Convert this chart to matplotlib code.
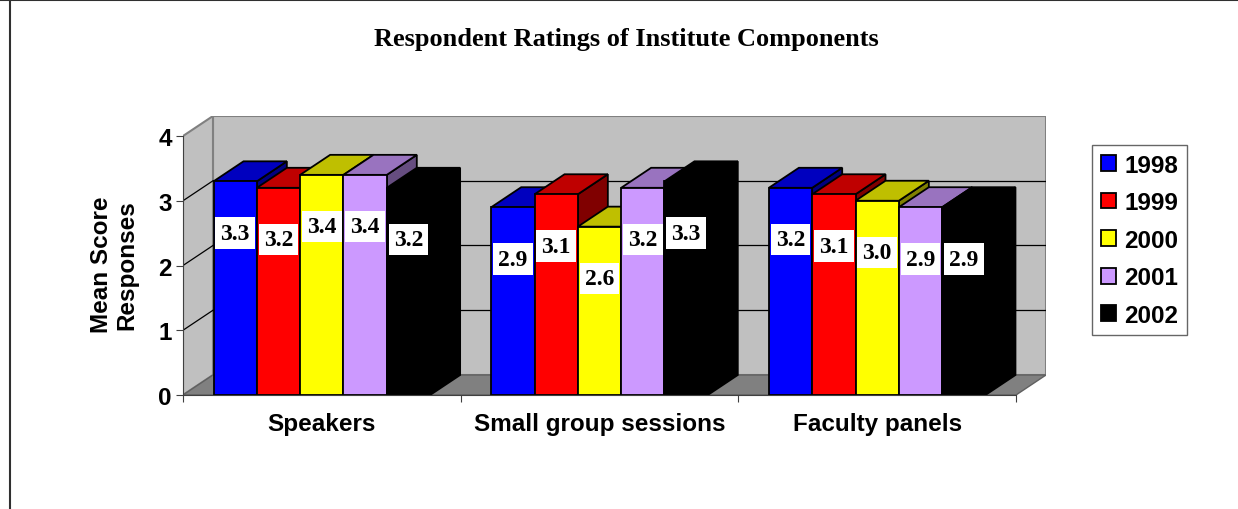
import matplotlib
matplotlib.use("Agg")
import matplotlib.pyplot as plt
from matplotlib.patches import Polygon, Rectangle, Patch
from matplotlib.lines import Line2D

categories = ["Speakers", "Small group sessions", "Faculty panels"]
years = ["1998", "1999", "2000", "2001", "2002"]
colors = ["#0000FF", "#FF0000", "#FFFF00", "#CC99FF", "#000000"]
v1998 = [3.3, 2.9, 3.2]
v1999 = [3.2, 3.1, 3.1]
v2000 = [3.4, 2.6, 3.0]
v2001 = [3.4, 3.2, 2.9]
v2002 = [3.2, 3.3, 2.9]
series = [v1998, v1999, v2000, v2001, v2002]
yticks = [0, 1, 2, 3, 4]

W, H = 1238, 510
# pseudo-3d depth (data units)
DX, DY = 0.108, 0.309
BAR_W = 0.156
GAP = (1 - BAR_W * len(years)) / 2
LABEL_DROP = 0.8
SANS = "Liberation Sans"
SERIF = "Liberation Serif"
FS = 17.5


def shade(c, f):
    r, g, b = matplotlib.colors.to_rgb(c)
    return (r * f, g * f, b * f)


fig = plt.figure(figsize=(W / 100, H / 100), dpi=100)
ax = fig.add_axes([183 / W, (H - 396) / H, (1046 - 183) / W, (396 - 117) / H])
ax.set_xlim(0, 3 + DX)
ax.set_ylim(0, 4 + DY)
ax.patch.set_visible(False)

wall = "#C0C0C0"
edge = "#808080"
top = max(yticks)
# back wall
ax.add_patch(Rectangle((DX, DY), 3, top, fc=wall, ec=edge, lw=1.5, zorder=1))
# left wall
ax.add_patch(Polygon([(0, 0), (0, top), (DX, top + DY), (DX, DY)], closed=True,
                     fc=wall, ec=edge, lw=1.5, zorder=1))
# floor
ax.add_patch(Polygon([(0, 0), (3, 0), (3 + DX, DY), (DX, DY)], closed=True,
                     fc="#808080", ec="#606060", lw=1.0, zorder=1))
for t in yticks[1:-1]:
    ax.plot([DX, 3 + DX], [t + DY, t + DY], color="black", lw=0.9, zorder=2)
    ax.plot([0, DX], [t, t + DY], color="black", lw=0.9, zorder=2)

z = 3
for i in range(len(categories)):
    for j, vals in enumerate(series):
        v = vals[i]
        c = colors[j]
        x0 = i + GAP + j * BAR_W
        x1 = x0 + BAR_W
        side = [(x1, 0), (x1 + DX, DY), (x1 + DX, v + DY), (x1, v)]
        topf = [(x0, v), (x1, v), (x1 + DX, v + DY), (x0 + DX, v + DY)]
        ax.add_patch(Polygon(side, closed=True, fc=shade(c, 0.5), ec="black", lw=1.3, zorder=z))
        ax.add_patch(Polygon(topf, closed=True, fc=shade(c, 0.75), ec="black", lw=1.3, zorder=z))
        ax.add_patch(Rectangle((x0, 0), BAR_W, v, fc=c, ec="black", lw=1.3, zorder=z))
        z += 1

for i in range(len(categories)):
    for j, vals in enumerate(series):
        v = vals[i]
        xc = i + GAP + (j + 0.5) * BAR_W
        ax.text(xc, v - LABEL_DROP, f"{v:.1f}", ha="center", va="center",
                family=SERIF, weight="bold", fontsize=17, zorder=50,
                bbox=dict(boxstyle="square,pad=0.22", fc="white", ec="none"))

for s in ["top", "right"]:
    ax.spines[s].set_visible(False)
ax.spines["left"].set_bounds(0, top)
ax.spines["bottom"].set_bounds(0, 3)
ax.spines["left"].set_color("#404040")
ax.spines["bottom"].set_color("#404040")
ax.spines["left"].set_zorder(60)
ax.spines["bottom"].set_zorder(60)
ax.set_yticks(yticks)
ax.set_yticklabels([str(t) for t in yticks], family=SANS, weight="bold", fontsize=FS)
ax.set_xticks([0, 1, 2, 3])
ax.set_xticklabels([])
ax.set_xticks([0.5, 1.5, 2.5], minor=True)
ax.set_xticklabels(categories, minor=True, family=SANS, weight="bold", fontsize=FS)
ax.tick_params(axis="y", length=5, pad=3, color="#404040")
ax.tick_params(axis="x", which="major", length=5, color="#404040")
ax.tick_params(axis="x", which="minor", length=0, pad=12)

fig.text(114 / W, 1 - 265 / H, "Mean Score\nResponses", rotation=90,
         ha="center", va="center", family=SANS, weight="bold",
         fontsize=FS, linespacing=1.15)

fig.text(626 / W, 1 - 40 / H, "Respondent Ratings of Institute Components",
         ha="center", va="center", family=SERIF, weight="bold", fontsize=19)

handles = [Patch(fc=c, ec="black", lw=1.3) for c in colors]
leg = fig.legend(handles, years, loc="upper left",
                 bbox_to_anchor=(1092 / W, 1 - 146 / H), frameon=True,
                 fancybox=False, prop=dict(family=SANS, weight="bold", size=FS),
                 handlelength=0.62, handleheight=0.62, handletextpad=0.37,
                 labelspacing=0.6, borderpad=0.35, borderaxespad=0)
leg.get_frame().set_edgecolor("#404040")
leg.get_frame().set_linewidth(1.0)

# page frame lines (top and left)
fig.add_artist(Line2D([0, 1], [1 - 1 / H, 1 - 1 / H], transform=fig.transFigure,
                      color="#303030", lw=1.5))
fig.add_artist(Line2D([9.5 / W, 9.5 / W], [0, 1], transform=fig.transFigure,
                      color="#303030", lw=1.5))

fig.savefig("out.png", dpi=100)
